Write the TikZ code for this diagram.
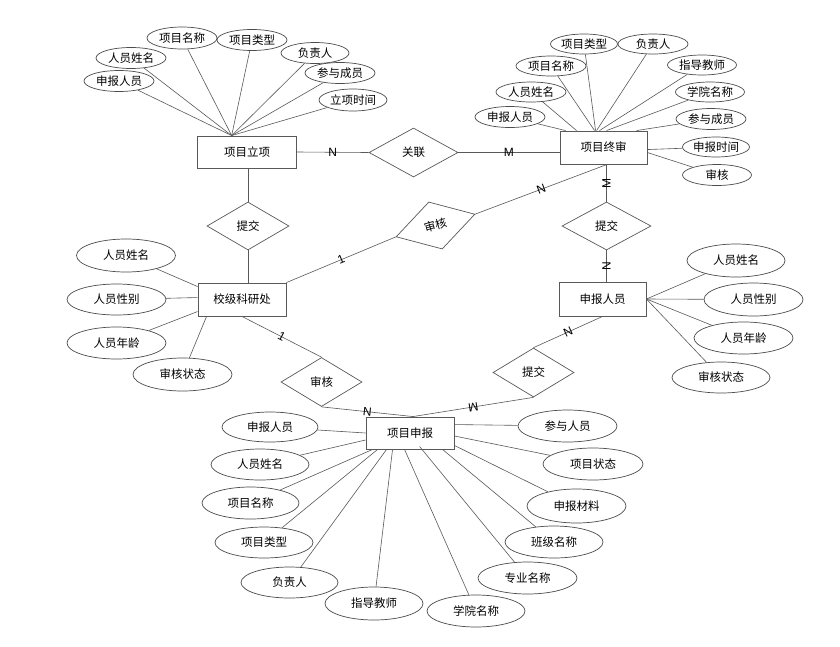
\documentclass[tikz,border=0pt]{standalone}
\usepackage{fontspec}
\setmainfont{Noto Sans CJK SC}
\newfontfamily\latinf{Liberation Sans}
\usetikzlibrary{shapes.geometric,calc}
\begin{document}
\begin{tikzpicture}[x=1pt,y=-1pt,
  txt/.style={font=\fontsize{11.5}{13}\selectfont},
  ent/.style={txt, draw=black!65, line width=0.9pt, fill=white, inner sep=0pt, minimum width=88pt, minimum height=33pt},
  rel/.style={txt, diamond, draw=black!65, line width=0.7pt, fill=white, inner sep=0pt, minimum width=82pt, minimum height=49pt},
  attrs/.style={txt, ellipse, draw=black!70, line width=0.7pt, fill=white, inner sep=0pt, minimum width=70pt, minimum height=21pt},
  attrl/.style={txt, ellipse, draw=black!70, line width=0.7pt, fill=white, inner sep=0pt, minimum width=98pt, minimum height=32pt},
  lnk/.style={draw=black!65, line width=0.6pt},
  card/.style={font=\latinf\fontsize{12}{12}\selectfont, inner sep=0pt}
]
\fill[white] (0,0) rectangle (840,646);
\useasboundingbox (0,0) rectangle (840,646);

% entities
\node[ent, minimum width=99pt, minimum height=32pt] (xl) at (247,152) {项目立项};
\node[ent, minimum width=87pt] (z) at (603.5,147.5) {项目终审};
\node[ent] (x) at (242,299.5) {校级科研处};
\node[ent, minimum width=87pt, minimum height=34pt] (s) at (602.5,299) {申报人员};
\node[ent, minimum height=32pt] (p) at (410,433) {项目申报};

% relations
\node[rel, minimum width=89pt] (gl) at (413.5,152.5) {关联};
\node[rel, minimum height=48pt] (tj1) at (248,226) {提交};
\node[rel, rotate=16] (sh1) at (435.5,225.5) {审核};
\node[rel, minimum width=89pt, minimum height=48pt] (tj2) at (606.5,226) {提交};
\node[rel, minimum width=81pt] (sh2) at (321.5,382) {审核};
\node[rel, minimum width=81pt] (tj3) at (533.5,372.5) {提交};

% attributes of 项目立项
\node[attrs] (a1) at (119,81) {申报人员};
\node[attrs] (a2) at (131,58) {人员姓名};
\node[attrs, minimum height=22pt] (a3) at (182,38) {项目名称};
\node[attrs] (a4) at (252,40) {项目类型};
\node[attrs, minimum width=68pt] (a5) at (315,53) {负责人};
\node[attrs] (a6) at (340,73) {参与成员};
\node[attrs, minimum width=68pt, minimum height=22pt] (a7) at (353,100) {立项时间};
\foreach \a in {a1,a2,a3,a4,a5,a6,a7} \draw[lnk] (\a) -- (xl.133);

% attributes of 项目终审
\node[attrs, minimum width=67pt, minimum height=20pt] (b1) at (584,44) {项目类型};
\node[attrs, minimum height=20pt] (b2) at (653,44) {负责人};
\node[attrs, minimum height=20pt] (b3) at (551,66) {项目名称};
\node[attrs, minimum width=69pt, minimum height=20pt] (b4) at (702,65) {指导教师};
\node[attrs, minimum height=20pt] (b5) at (531,92) {人员姓名};
\node[attrs, minimum width=69pt, minimum height=20pt] (b6) at (710,92) {学院名称};
\node[attrs] (b7) at (510,117) {申报人员};
\node[attrs] (b8) at (711,119) {参与成员};
\node[attrs, minimum width=67pt, minimum height=20pt] (b9) at (716,147) {申报时间};
\node[attrs, minimum width=69pt] (b10) at (717,175) {审核};
\draw[lnk] (b7) -- ($(z.north west)+(6,0)$);
\draw[lnk] (b5) -- ($(z.north west)+(17,0)$);
\draw[lnk] (b3) -- ($(z.north west)+(35,0)$);
\draw[lnk] (b1) -- ($(z.north west)+(36,0)$);
\draw[lnk] (b2) -- ($(z.north west)+(37,0)$);
\draw[lnk] (b4) -- ($(z.north west)+(40,0)$);
\draw[lnk] (b6) -- ($(z.north west)+(47,0)$);
\draw[lnk] (b8) -- ($(z.north west)+(77,0)$);
\draw[lnk] (b9) -- ($(z.north east)+(0,19)$);
\draw[lnk] (b10) -- ($(z.north east)+(0,22)$);

% attributes of 校级科研处
\node[attrl, minimum width=99pt, minimum height=33pt] (c1) at (126,255.5) {人员姓名};
\node[attrl, minimum width=99pt, minimum height=31pt] (c2) at (116.5,299.5) {人员性别};
\node[attrl, minimum width=99pt] (c3) at (116.5,343) {人员年龄};
\node[attrl, minimum width=99pt, minimum height=33pt] (c4) at (182.5,374.5) {审核状态};
\draw[lnk] (c1) -- ($(x.north west)+(0,4)$);
\draw[lnk] (c2) -- ($(x.north west)+(0,15)$);
\draw[lnk] (c3) -- ($(x.north west)+(0,29)$);
\draw[lnk] (c4) -- ($(x.south west)+(9,0)$);

% attributes of 申报人员
\node[attrl, minimum height=33pt] (d1) at (736,260.5) {人员姓名};
\node[attrl, minimum width=99pt, minimum height=33pt] (d2) at (753.5,299.5) {人员性别};
\node[attrl, minimum width=99pt] (d3) at (743.5,338) {人员年龄};
\node[attrl, minimum height=31pt] (d4) at (721,377.5) {审核状态};
\foreach \d in {d1,d2,d3,d4} \draw[lnk] (\d) -- (s.east);

% attributes of 项目申报
\node[attrl, minimum width=96pt, minimum height=30pt] (f1) at (270,427) {申报人员};
\node[attrl, minimum height=31pt] (f2) at (260,464.5) {人员姓名};
\node[attrl, minimum width=97pt] (f3) at (250.5,503) {项目名称};
\node[attrl, minimum height=31pt] (f4) at (264,542.5) {项目类型};
\node[attrl, minimum width=97pt, minimum height=31pt] (f5) at (289.5,582.5) {负责人};
\node[attrl, minimum height=33pt] (f6) at (374,603.5) {指导教师};
\node[attrl] (f7) at (476,611) {学院名称};
\node[attrl, minimum width=99pt] (f8) at (527.5,578) {专业名称};
\node[attrl] (f9) at (554,542) {班级名称};
\node[attrl, minimum width=99pt, minimum height=34pt] (f10) at (576.5,506) {申报材料};
\node[attrl, minimum width=100pt] (f11) at (593,464) {项目状态};
\node[attrl, minimum width=99pt] (f12) at (567.5,426) {参与人员};
\draw[lnk] (f1) -- (p.west);
\draw[lnk] (f2) -- ($(p.west)+(0,7)$);
\draw[lnk] (f3) -- ($(p.south west)+(7,0)$);
\draw[lnk] (f4) -- ($(p.south west)+(12,0)$);
\draw[lnk] (f5) -- ($(p.south west)+(21,0)$);
\draw[lnk] (f6) -- ($(p.south west)+(27,0)$);
\draw[lnk] (f7) -- ($(p.south west)+(39,0)$);
\draw[lnk] (f8) -- ($(p.south west)+(54,-3)$);
\draw[lnk] (f9) -- ($(p.south west)+(77,0)$);
\draw[lnk] (f10) -- ($(p.south east)+(0,-4)$);
\draw[lnk] (f11) -- ($(p.east)+(0,3)$);
\draw[lnk] (f12) -- ($(p.north east)+(0,8)$);

% relationship connectors
\draw[lnk] (xl.east) -- node[card] {N} (gl.west);
\draw[lnk] (gl.east) -- node[card] {M} (gl.east -| z.west);
\draw[lnk] (tj1.north) -- (tj1.north |- xl.south);
\draw[lnk] (tj1.south) -- (tj1.south |- x.north);
\draw[lnk] (x.north east) -- node[card, rotate=22.7] {1} (sh1.west);
\draw[lnk] (sh1.east) -- node[card, rotate=20.7] {N} ($(z.south)+(3.5,0)$);
\draw[lnk] (tj2.north |- z.south) -- node[card, rotate=90] {M} (tj2.north);
\draw[lnk] (tj2.south) -- node[card, rotate=90] {N} (tj2.south |- s.north);
\draw[lnk] (x.south) -- node[card, rotate=-28] {1} (sh2.north);
\draw[lnk] (sh2.south) -- node[card, rotate=-6] {N} ($(p.north)+(3,0)$);
\draw[lnk] (s.south) -- node[card, rotate=24.6] {N} (tj3.north);
\draw[lnk] (tj3.south) -- node[card, rotate=189] {M} ($(p.north)+(3,0)$);
\end{tikzpicture}
\end{document}
